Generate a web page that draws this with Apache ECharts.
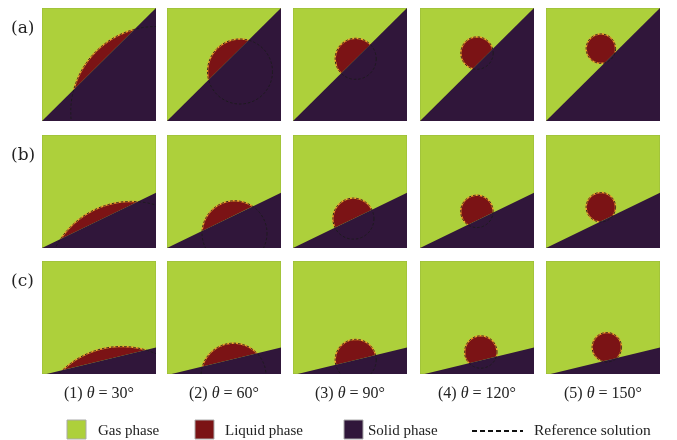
<!DOCTYPE html>
<html><head><meta charset="utf-8">
<script src="https://cdn.jsdelivr.net/npm/echarts@6/dist/echarts.min.js"></script>
<style>html,body{margin:0;padding:0;background:#fff}#c{width:677px;height:440px}</style>
</head><body><div id="c"></div>
<script>
// ---- data ----
var rowLabels = ['(a)', '(b)', '(c)'];
var colLabels = ['(1)', '(2)', '(3)', '(4)', '(5)'];
var contactAngles = [30, 60, 90, 120, 150];           // degrees
var dropRadius = [0.75, 0.285, 0.18, 0.142, 0.129];    // fraction of panel width
var wallStartX = [0, 0, 0.04];                         // where the wall meets the bottom edge
var wallEndY = [1, 0.49, 0.235];                       // wall height at the right edge
var contactMidX = [
  [0.545, 0.54, 0.55, 0.55, 0.56],
  [0.50, 0.53, 0.53, 0.53, 0.53],
  [0.545, 0.55, 0.55, 0.55, 0.56]
];
var legendNames = ['Gas phase', 'Liquid phase', 'Solid phase', 'Reference solution'];

// ---- styling ----
var GAS = '#add03b', LIQ = '#7b1315', SOL = '#30163a', EDGE = '#eea32c';
var colX = [42, 167, 293, 420, 546], rowY = [8, 135, 261], PW = 114, PH = 113;

var grids = [], xAxes = [], yAxes = [], series = [];
rowLabels.forEach(function (rl, r) {
  colLabels.forEach(function (cl, c) {
    var k = grids.length;
    grids.push({left: colX[c], top: rowY[r], width: PW, height: PH});
    xAxes.push({gridIndex: k, type: 'value', min: 0, max: 1, show: false});
    yAxes.push({gridIndex: k, type: 'value', min: 0, max: 1, show: false});
    series.push({
      type: 'custom', xAxisIndex: k, yAxisIndex: k, clip: true,
      data: [[r, c]],
      renderItem: function (params, api) {
        var cs = params.coordSys;
        var S = api.coord([wallStartX[r], 0]);
        var E = api.coord([1, wallEndY[r]]);
        var mx = contactMidX[r][c];
        var M = api.coord([mx, wallEndY[r] * (mx - wallStartX[r]) / (1 - wallStartX[r])]);
        var BR = api.coord([1, 0]);
        var dx = E[0] - S[0], dy = E[1] - S[1], L = Math.sqrt(dx * dx + dy * dy);
        var u = [dx / L, dy / L], n = [u[1], -u[0]];
        var th = contactAngles[c] * Math.PI / 180;
        var R = dropRadius[c] * cs.width;
        var C = [M[0] - R * Math.cos(th) * n[0], M[1] - R * Math.cos(th) * n[1]];
        var arc = [];
        var a0 = Math.PI / 2 - th, a1 = Math.PI / 2 + th, N = 120;
        for (var i = 0; i <= N; i++) {
          var p = a0 + (a1 - a0) * i / N;
          arc.push([C[0] + R * (Math.cos(p) * u[0] + Math.sin(p) * n[0]),
                    C[1] + R * (Math.cos(p) * u[1] + Math.sin(p) * n[1])]);
        }
        return {
          type: 'group',
          children: [
            {type: 'rect', shape: {x: cs.x, y: cs.y, width: cs.width, height: cs.height},
             style: {fill: GAS, stroke: '#98b83a', lineWidth: 1}},
            {type: 'polygon', shape: {points: arc}, style: {fill: LIQ}},
            {type: 'polyline', shape: {points: arc}, style: {stroke: EDGE, lineWidth: 1.5, fill: null}},
            {type: 'polygon', shape: {points: [S, E, BR]}, style: {fill: SOL}},
            {type: 'circle', shape: {cx: C[0], cy: C[1], r: R},
             style: {fill: null, stroke: '#1b1b1b', lineWidth: 0.9, lineDash: [2.5, 2]}}
          ]
        };
      }
    });
  });
});

var graphics = [];
rowLabels.forEach(function (rl, r) {
  graphics.push({type: 'text', left: 11, top: rowY[r] + 12,
    style: {text: rl, font: '17px "DejaVu Serif"', fill: '#222'}});
});
colLabels.forEach(function (cl, c) {
  graphics.push({type: 'text', x: colX[c] + PW / 2, y: 394,
    style: {text: cl + ' {i|θ} = ' + contactAngles[c] + '°', textAlign: 'center', textVerticalAlign: 'middle',
      font: '16px "Liberation Serif"', fill: '#222',
      rich: {i: {font: 'italic 16px "Liberation Serif"', fill: '#222'}}}});
});
var legFill = [GAS, LIQ, SOL];
var legSqX = [67, 195, 344], legTxtX = [98, 225, 368];
legFill.forEach(function (f, i) {
  graphics.push({type: 'rect', shape: {x: legSqX[i], y: 420, width: 19, height: 19},
    style: {fill: f, stroke: '#aaa', lineWidth: 1}});
  graphics.push({type: 'text', x: legTxtX[i], y: 431,
    style: {text: legendNames[i], font: '15px "Liberation Serif"', fill: '#222', textVerticalAlign: 'middle'}});
});
graphics.push({type: 'line', shape: {x1: 472, y1: 431, x2: 523, y2: 431},
  style: {stroke: '#111', lineWidth: 2, lineDash: [5, 3]}});
graphics.push({type: 'text', x: 534, y: 431,
  style: {text: legendNames[3], font: '15.5px "Liberation Serif"', fill: '#222', textVerticalAlign: 'middle'}});

var chart = echarts.init(document.getElementById('c'), null, {renderer: 'canvas'});
chart.setOption({
  animation: false,
  backgroundColor: '#fff',
  grid: grids, xAxis: xAxes, yAxis: yAxes, series: series,
  graphic: graphics
});
</script></body></html>
